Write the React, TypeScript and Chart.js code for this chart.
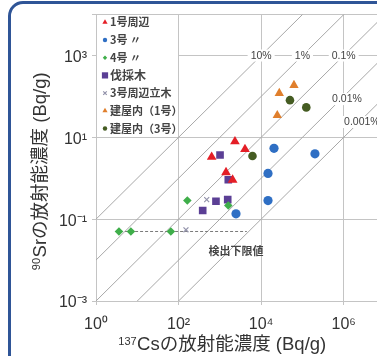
import React, { useEffect, useRef } from 'react';
import { Chart, registerables } from 'chart.js';
import { drawPoint } from 'chart.js/helpers';

Chart.register(...registerables);

// ---- data ----
const seriesNames = ['1号周辺', '3号 〃', '4号 〃', '伐採木', '3号周辺立木', '建屋内（1号）', '建屋内（3号）'];

const unit1Cs = [2320, 4060, 633, 1410, 2040];
const unit1Sr = [7.9, 5.1, 3.3, 1.39, 0.91];
const unit3Cs = [20500, 201000, 14650, 14650, 2460];
const unit3Sr = [5.4, 3.95, 1.31, 0.285, 0.135];
const unit4Cs = [163, 1600, 3.6, 7.0, 65];
const unit4Sr = [0.285, 0.215, 0.05, 0.05, 0.05];
const felledCs = [1010, 1600, 805, 1550, 384];
const felledSr = [3.7, 0.92, 0.274, 0.3, 0.163];
const standingCs = [480, 151];
const standingSr = [0.3, 0.055];
const bldg1Cs = [62400, 27500, 24600];
const bldg1Sr = [188, 120, 34.5];
const bldg3Cs = [49900, 124000, 6170];
const bldg3Sr = [81, 54, 3.5];

const ratioValues = [0.1, 0.01, 0.001, 0.0001, 0.00001];
const ratioLabels = ['10%', '1%', '0.1%', '0.01%', '0.001%'];
const ratioLabelCs = [1e4, 1e5, 1e6, 1.2e6, 2.75e6];
const ratioLabelSr = [1e3, 1e3, 1e3, 86, 23.7];
const ratioLineCs = [1e-2, 1e9];

const detectionLimitSr = 0.05;
const detectionLineCs = [2.9, 4500];
const detectionLabel = '検出下限値';
const detectionLabelCs = 2460;
const detectionLabelSr = 0.0173;

const xTickValues = [1, 1e2, 1e4, 1e6, 1e7];
const xTickLabels = ['10⁰', '10²', '10⁴', '10⁶', ''];
const yTickValues = [1e-3, 1e-1, 1e1, 1e3, 1e4];
const yTickLabels = ['10⁻³', '10⁻¹', '10¹', '10³', ''];

const xTitleSup = '137';
const xTitleMain = 'Csの放射能濃度 (Bq/g)';
const yTitleSup = '90';
const yTitleMain = 'Srの放射能濃度 (Bq/g)';

const legendCornerCs = 1e2;
const legendCornerSr = 1e1;

// ---- styles ----
const seriesData = [
  [unit1Cs, unit1Sr],
  [unit3Cs, unit3Sr],
  [unit4Cs, unit4Sr],
  [felledCs, felledSr],
  [standingCs, standingSr],
  [bldg1Cs, bldg1Sr],
  [bldg3Cs, bldg3Sr],
];
const seriesStyles = [
  { color: '#e41e26', style: 'triangle', radius: 5.6, lr: 3, lw: 0, font: 'bold 11px' },
  { color: '#2f6fc4', style: 'circle', radius: 4.6, lr: 2.2, lw: 0, font: 'bold 11px' },
  { color: '#3fae4a', style: 'rectRot', radius: 4.3, lr: 2.2, lw: 0, font: 'bold 11px' },
  { color: '#5b3f95', style: 'rect', radius: 5.4, lr: 4.4, lw: 0, font: 'bold 12px' },
  { color: '#9292aa', style: 'crossRot', radius: 3.5, lr: 2.5, lw: 1.2, font: 'bold 11px' },
  { color: '#e07f2c', style: 'triangle', radius: 5.4, lr: 3, lw: 0, font: 'bold 11px' },
  { color: '#455c22', style: 'circle', radius: 4.3, lr: 2.2, lw: 0, font: 'bold 11px' },
];

const FONT = '"Liberation Sans", Arial, "Noto Sans CJK JP", sans-serif';
const CJK = '"Noto Sans CJK JP", "Liberation Sans", sans-serif';
const GRID = '#c4c4c4';
const DIAG = '#a8a8a8';

function drawSup(ctx: CanvasRenderingContext2D, sup: string, main: string, cx: number, cy: number, rotate: boolean) {
  ctx.save();
  ctx.translate(cx, cy);
  if (rotate) ctx.rotate(-Math.PI / 2);
  ctx.font = `11px ${FONT}`;
  const ws = ctx.measureText(sup).width;
  ctx.font = `18.5px ${FONT}`;
  const wm = ctx.measureText(main).width;
  let x = -(ws + wm) / 2;
  ctx.textAlign = 'left';
  ctx.textBaseline = 'alphabetic';
  ctx.fillStyle = '#333';
  ctx.font = `11px ${FONT}`;
  ctx.fillText(sup, x, 1);
  x += ws + 0.5;
  ctx.font = `18.5px ${FONT}`;
  ctx.fillText(main, x, 6.5);
  ctx.restore();
}

const overlayPlugin = {
  id: 'overlay',
  afterDatasetsDraw(chart: any) {
    const ctx: CanvasRenderingContext2D = chart.ctx;
    const xs = chart.scales.x;
    const ys = chart.scales.y;
    const area = chart.chartArea;

    // legend box (white area bounded by grid lines)
    const lx = Math.round(xs.getPixelForValue(legendCornerCs));
    const ly = Math.round(ys.getPixelForValue(legendCornerSr));
    ctx.save();
    ctx.fillStyle = '#fff';
    ctx.fillRect(area.left + 1, area.top + 1, lx - area.left - 2, ly - area.top - 2);
    seriesNames.forEach((name, i) => {
      const st = seriesStyles[i];
      const y = area.top + 7.7 + i * 17.7;
      ctx.fillStyle = st.color;
      ctx.strokeStyle = st.color;
      ctx.lineWidth = st.lw || 1;
      drawPoint(ctx, { pointStyle: st.style as any, rotation: 0, radius: st.lr, borderWidth: st.lw }, area.left + 9, y);
      ctx.fillStyle = '#444';
      ctx.font = `${st.font} ${CJK}`;
      ctx.textAlign = 'left';
      ctx.textBaseline = 'middle';
      ctx.fillText(name, area.left + 14, y);
    });

    // ratio labels
    ctx.font = `10.5px ${FONT}`;
    ctx.textAlign = 'center';
    ctx.textBaseline = 'middle';
    ratioLabels.forEach((lab, i) => {
      const px = xs.getPixelForValue(ratioLabelCs[i]);
      const py = ys.getPixelForValue(ratioLabelSr[i]);
      const w = ctx.measureText(lab).width;
      ctx.fillStyle = '#fff';
      ctx.fillRect(px - w / 2 - 3, py - 6, w + 6, 12);
      ctx.fillStyle = '#444';
      ctx.fillText(lab, px, py + 0.5);
    });

    // detection limit label
    ctx.font = `bold 11px ${CJK}`;
    ctx.fillStyle = '#444';
    ctx.fillText(detectionLabel, xs.getPixelForValue(detectionLabelCs), ys.getPixelForValue(detectionLabelSr));
    ctx.restore();

    // axis titles
    drawSup(ctx, xTitleSup, xTitleMain, 222, 343.5, false);
    drawSup(ctx, yTitleSup, yTitleMain, 39, 171.5, true);
  },
};

export default function App() {
  const ref = useRef<HTMLCanvasElement | null>(null);

  useEffect(() => {
    if (!ref.current) return;
    const scatterSets = seriesNames.map((name, i) => {
      const [cs, sr] = seriesData[i];
      const st = seriesStyles[i];
      return {
        label: name,
        data: cs.map((v, j) => ({ x: v, y: sr[j] })),
        pointStyle: st.style,
        pointRadius: st.radius,
        backgroundColor: st.color,
        borderColor: st.color,
        borderWidth: st.lw,
        showLine: false,
        order: 0,
      };
    });
    const ratioSets = ratioValues.map((r, i) => ({
      label: ratioLabels[i],
      data: ratioLineCs.map((c) => ({ x: c, y: c * r })),
      showLine: true,
      pointRadius: 0,
      borderColor: DIAG,
      borderWidth: 1,
      fill: false,
      order: 10,
    }));
    const detectSet = {
      label: detectionLabel,
      data: detectionLineCs.map((c) => ({ x: c, y: detectionLimitSr })),
      showLine: true,
      pointRadius: 0,
      borderColor: '#7a7a7a',
      borderWidth: 1,
      borderDash: [3, 2],
      fill: false,
      order: 9,
    };

    const chart = new Chart(ref.current, {
      type: 'scatter',
      data: { datasets: [...scatterSets, detectSet, ...ratioSets] as any },
      options: {
        animation: false,
        responsive: false,
        devicePixelRatio: 1,
        layout: { padding: { left: 0, top: 13, right: 15, bottom: 0 } },
        plugins: { legend: { display: false }, tooltip: { enabled: false } },
        scales: {
          x: {
            type: 'logarithmic',
            min: 1,
            max: 1e7,
            afterBuildTicks: (s: any) => {
              s.ticks = xTickValues.map((v) => ({ value: v }));
            },
            afterFit: (s: any) => {
              s.height = 55;
            },
            ticks: {
              autoSkip: false,
              maxRotation: 0,
              minRotation: 0,
              padding: 10,
              color: '#333',
              font: { size: 16, family: FONT },
              callback: (_v: any, i: number) => xTickLabels[i],
            },
            grid: { color: GRID, tickLength: 4, drawTicks: true },
            border: { color: GRID },
          },
          y: {
            type: 'logarithmic',
            min: 1e-3,
            max: 1e4,
            afterBuildTicks: (s: any) => {
              s.ticks = yTickValues.map((v) => ({ value: v }));
            },
            afterFit: (s: any) => {
              s.width = 96;
            },
            ticks: {
              autoSkip: false,
              padding: 5,
              labelOffset: 2,
              color: '#333',
              font: { size: 16, family: FONT },
              callback: (_v: any, i: number) => yTickLabels[i],
            },
            grid: { color: GRID, tickLength: 4, drawTicks: true },
            border: { color: GRID },
          },
        },
      } as any,
      plugins: [overlayPlugin],
    });
    return () => chart.destroy();
  }, []);

  return (
    <div style={{ position: 'fixed', left: 0, top: 0, width: 377, height: 356, overflow: 'hidden', background: '#fff' }}>
      <div
        style={{
          position: 'absolute',
          left: 8,
          top: 1,
          width: 700,
          height: 700,
          border: '3.5px solid #2f5597',
          borderTopLeftRadius: 15,
          boxSizing: 'border-box',
        }}
      />
      <canvas ref={ref} width={400} height={356} style={{ position: 'absolute', left: 0, top: 0, width: 400, height: 356 }} />
    </div>
  );
}
